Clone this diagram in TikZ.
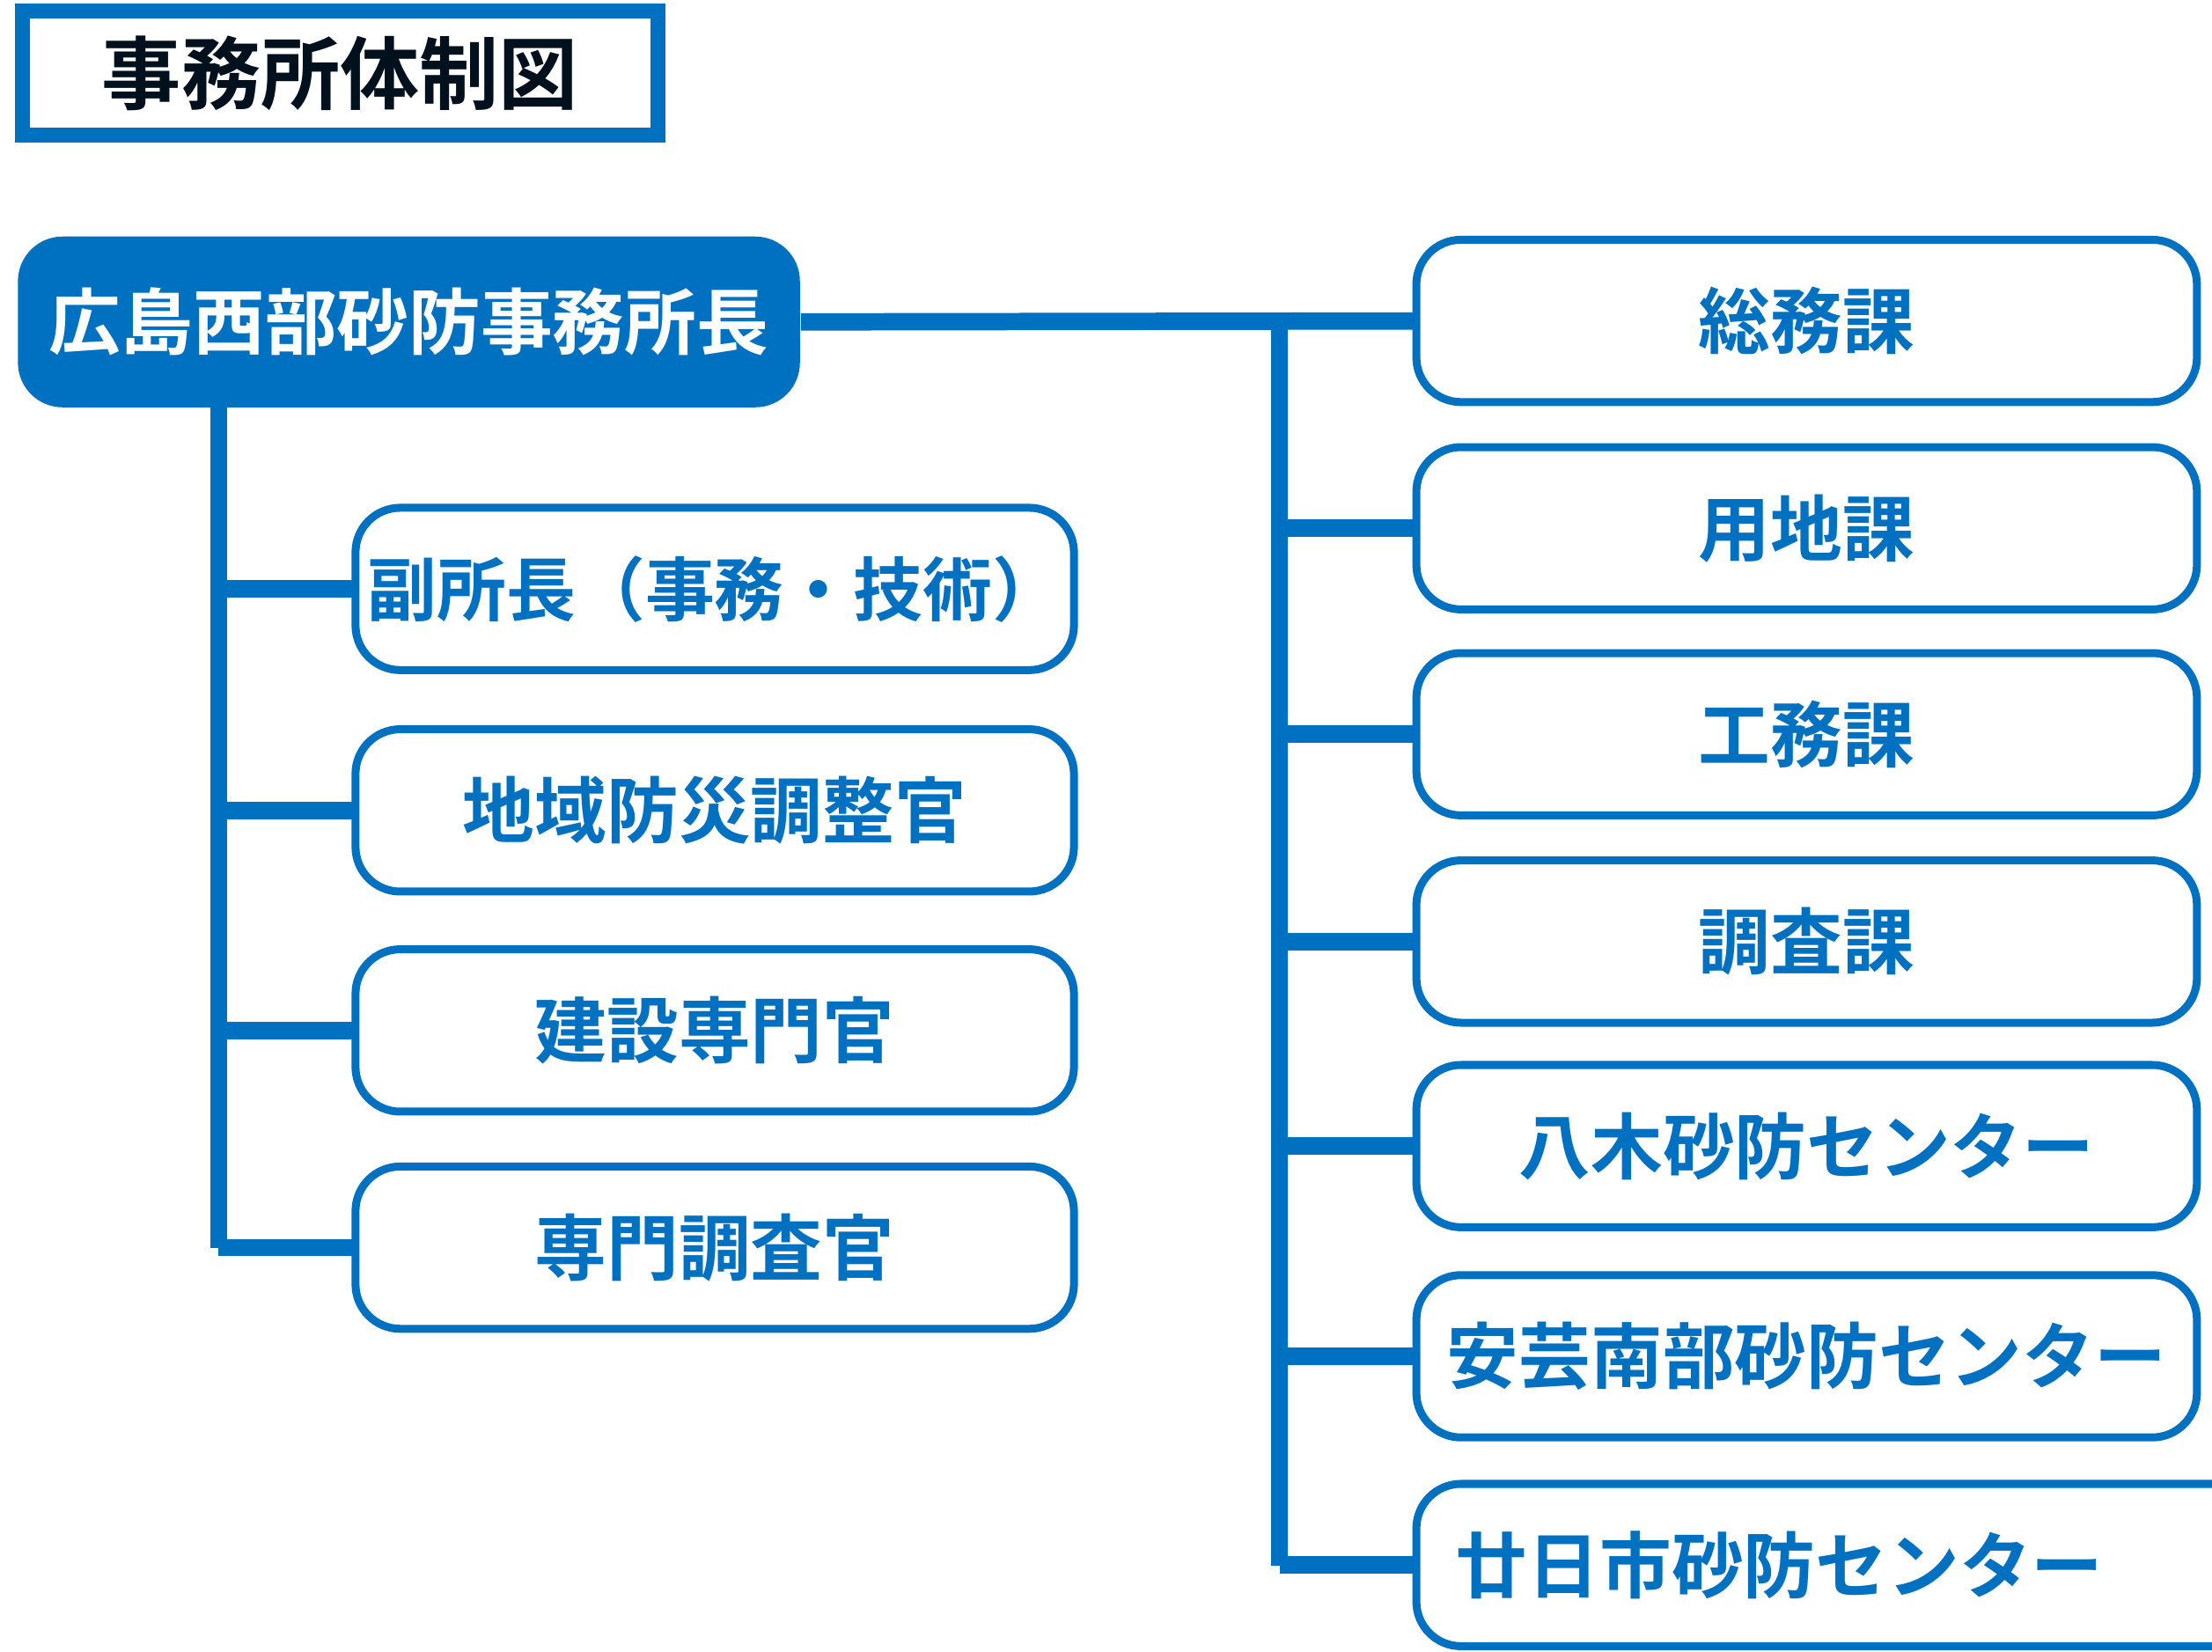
\documentclass[tikz,border=0pt]{standalone}
\usepackage{fontspec}
\setmainfont{Noto Sans CJK JP}[BoldFont={Noto Sans CJK JP Bold}]
\usetikzlibrary{positioning}
\definecolor{hblue}{HTML}{0070C0}
\begin{document}
\begin{tikzpicture}
  [
  x=0.01cm, y=-0.01cm, font=\bfseries\fontsize{14.5pt}{16pt}\selectfont,
  unit/.style={draw=hblue, line width=1.6pt, rounded corners=9pt, text=hblue,
    anchor=north west, inner sep=0pt, outer sep=0pt, minimum height=1.15cm},
  leftunit/.style={unit, minimum width=5.09cm},
  rightunit/.style={unit, minimum width=5.53cm},
  link/.style={draw=hblue, line width=3.5pt},
  ]
  \useasboundingbox (0,0) rectangle (1568,1171);

  % title
  \node[draw=hblue, line width=3pt, anchor=north west, minimum width=4.5cm,
    minimum height=0.88cm, outer sep=0pt, font=\bfseries\fontsize{16pt}{18pt}\selectfont,
    text=black!85!hblue] (title) at (16,8) {事務所体制図};

  % head
  \node[fill=hblue, text=white, rounded corners=9pt, anchor=north west,
    minimum width=5.54cm, minimum height=1.21cm, inner sep=0pt] (head) at (12,167) {広島西部砂防事務所長};

  % left column
  \node[leftunit, font=\bfseries\fontsize{14pt}{16pt}\selectfont] (vice) at (252,360) {副所長（事務・技術）};
  \node[leftunit] (bosai) at (252,517) {地域防災調整官};
  \node[leftunit] (kensetsu) at (252,673) {建設専門官};
  \node[leftunit] (chosakan) at (252,827) {専門調査官};

  % right column
  \node[rightunit] (somu) at (1004,170) {総務課};
  \node[rightunit] (yochi) at (1004,317) {用地課};
  \node[rightunit] (komu) at (1004,463) {工務課};
  \node[rightunit] (chosa) at (1004,610) {調査課};
  \node[rightunit] (yagi) at (1004,755) {八木砂防センター};
  \node[rightunit] (aki) at (1004,904) {安芸南部砂防センター};
  \node[rightunit, align=left, text width=5.53cm, inner xsep=0.28cm] (hatsuka) at (1004,1052) {廿日市砂防センター};

  % connectors
  \coordinate (ltop) at (155,288);
  \coordinate (lbot) at (155,885);
  \coordinate (rtop) at (907,226);
  \coordinate (rbot) at (907,1110);
  \draw[link] (ltop) -- (lbot);
  \foreach \n in {vice,bosai,kensetsu,chosakan}
    \draw[link] (\n.west) -- (\n.west -| ltop);
  \draw[link] (head.east) -- (somu.west);
  \draw[link] (rtop) -- (rbot);
  \foreach \n in {yochi,komu,chosa,yagi,aki,hatsuka}
    \draw[link] (\n.west) -- (\n.west -| rtop);
\end{tikzpicture}
\end{document}
